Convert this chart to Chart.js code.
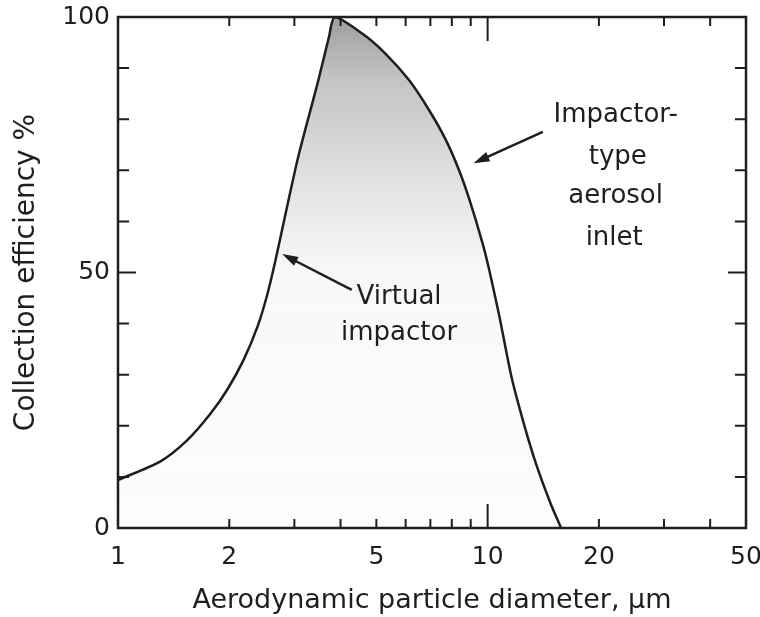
<!DOCTYPE html>
<html>
<head>
<meta charset="utf-8">
<script src="https://cdn.jsdelivr.net/npm/chart.js@4.4.1/dist/chart.umd.min.js"></script>
<style>
  body { margin: 0; background: #fff; }
</style>
</head>
<body>
<canvas id="effChart" width="760" height="617"></canvas>
<script>
// aerodynamic diameter (um) and collection efficiency (%)
const diameters = [1.0, 1.3, 1.54, 1.78, 1.98, 2.19, 2.39, 2.53, 2.66, 2.84, 3.07, 3.48, 3.72, 3.86,
                   4.57, 5.28, 6.12, 6.94, 7.70, 8.37, 8.95, 9.69, 10.1, 10.76, 11.6, 12.6, 13.6, 14.8, 15.8];
const efficiency = [9.4, 13.0, 17.2, 22.4, 27.2, 33.0, 39.6, 45.5, 52.0, 61.5, 72.5, 87.5, 96.0, 100,
                    96.8, 92.9, 87.7, 81.8, 76.0, 70.0, 64.0, 55.7, 50.5, 41.4, 29.6, 19.8, 12, 4.8, 0];

const xTickLabels = [1, 2, 5, 10, 20, 50];
const xMinorTicks = [2, 3, 4, 5, 6, 7, 8, 9, 20, 30, 40];
const yTickLabels = [0, 50, 100];
const yMinorTicks = [10, 20, 30, 40, 50, 60, 70, 80, 90];

// labels: text lines with their anchor in data units, arrows tail -> head
const noteLines = [
    { text: 'Virtual', x: 5.76, y: 45.2 },
    { text: 'impactor', x: 5.76, y: 38.2 },
    { text: 'Impactor-', x: 22.2, y: 80.8 },
    { text: 'type', x: 22.5, y: 72.5 },
    { text: 'aerosol', x: 22.2, y: 65.0 },
    { text: 'inlet', x: 22.0, y: 56.8 }
];
const noteArrows = [
    { from: [4.29, 46.6], to: [2.78, 53.6] },
    { from: [14.1, 77.5], to: [9.16, 71.4] }
];

const ink = '#1e1e1e';
const fontName = "'DejaVu Sans', sans-serif";

const points = diameters.map((d, i) => ({ x: d, y: efficiency[i] }));

const frameAndTicks = {
    id: 'frameAndTicks',
    afterDatasetsDraw(chart) {
        const { ctx, chartArea: a, scales: { x, y } } = chart;
        ctx.save();
        ctx.strokeStyle = ink;
        ctx.lineWidth = 2;
        ctx.beginPath();
        xMinorTicks.concat([10]).forEach(v => {
            const px = x.getPixelForValue(v);
            const len = v === 10 ? 24 : 9;
            ctx.moveTo(px, a.bottom); ctx.lineTo(px, a.bottom - len);
            ctx.moveTo(px, a.top); ctx.lineTo(px, a.top + len);
        });
        yMinorTicks.forEach(v => {
            const py = y.getPixelForValue(v);
            const len = v === 50 ? 18 : 11;
            ctx.moveTo(a.left, py); ctx.lineTo(a.left + len, py);
            ctx.moveTo(a.right, py); ctx.lineTo(a.right - len, py);
        });
        ctx.stroke();
        ctx.lineWidth = 2.5;
        ctx.strokeRect(a.left, a.top, a.right - a.left, a.bottom - a.top);
        ctx.restore();
    }
};

const notes = {
    id: 'notes',
    afterDraw(chart) {
        const { ctx, scales: { x, y } } = chart;
        ctx.save();
        ctx.fillStyle = ink;
        ctx.strokeStyle = ink;
        ctx.font = '26px ' + fontName;
        ctx.textAlign = 'center';
        ctx.textBaseline = 'middle';
        noteLines.forEach(n => ctx.fillText(n.text, x.getPixelForValue(n.x), y.getPixelForValue(n.y)));

        ctx.lineWidth = 2.5;
        noteArrows.forEach(ar => {
            const x0 = x.getPixelForValue(ar.from[0]), y0 = y.getPixelForValue(ar.from[1]);
            const x1 = x.getPixelForValue(ar.to[0]), y1 = y.getPixelForValue(ar.to[1]);
            const ang = Math.atan2(y1 - y0, x1 - x0);
            ctx.beginPath();
            ctx.moveTo(x0, y0);
            ctx.lineTo(x1 - 8 * Math.cos(ang), y1 - 8 * Math.sin(ang));
            ctx.stroke();
            ctx.beginPath();
            ctx.moveTo(x1, y1);
            ctx.lineTo(x1 - 16 * Math.cos(ang) + 5 * Math.sin(ang), y1 - 16 * Math.sin(ang) - 5 * Math.cos(ang));
            ctx.lineTo(x1 - 16 * Math.cos(ang) - 5 * Math.sin(ang), y1 - 16 * Math.sin(ang) + 5 * Math.cos(ang));
            ctx.closePath();
            ctx.fill();
        });
        ctx.restore();
    }
};

let ctx = document.getElementById('effChart').getContext('2d');

let effChart = new Chart(ctx, {
    type: 'scatter',
    data: {
        datasets: [{
            data: points,
            showLine: true,
            borderColor: ink,
            borderWidth: 2.5,
            pointRadius: 0,
            tension: 0.25,
            fill: 'origin',
            backgroundColor: (context) => {
                const area = context.chart.chartArea;
                if (!area) return 'rgba(0,0,0,0.1)';
                const g = context.chart.ctx.createLinearGradient(0, area.top, 0, area.bottom);
                g.addColorStop(0, 'rgba(40,40,40,0.45)');
                g.addColorStop(0.12, 'rgba(40,40,40,0.28)');
                g.addColorStop(0.33, 'rgba(40,40,40,0.13)');
                g.addColorStop(0.5, 'rgba(40,40,40,0.03)');
                g.addColorStop(1, 'rgba(40,40,40,0.01)');
                return g;
            }
        }]
    },
    options: {
        responsive: false,
        animation: false,
        devicePixelRatio: 1,
        layout: {
            autoPadding: false,
            padding: { top: 17, right: 14, left: 0, bottom: 0 }
        },
        plugins: {
            legend: { display: false },
            tooltip: { enabled: false }
        },
        scales: {
            x: {
                type: 'logarithmic',
                min: 1,
                max: 50,
                afterBuildTicks: (scale) => {
                    scale.ticks = xTickLabels.map(v => ({ value: v }));
                },
                afterFit: (scale) => {
                    scale.height = 89;
                    scale.paddingLeft = 0;
                    scale.paddingRight = 0;
                },
                ticks: {
                    color: ink,
                    padding: 14,
                    maxRotation: 0,
                    autoSkip: false,
                    font: { family: fontName, size: 25 },
                    callback: (v) => String(v)
                },
                grid: { display: false, drawTicks: false },
                border: { display: false },
                title: {
                    display: true,
                    text: 'Aerodynamic particle diameter, μm',
                    color: ink,
                    font: { family: fontName, size: 27 },
                    padding: { top: 0, bottom: 0 }
                }
            },
            y: {
                min: 0,
                max: 100,
                afterBuildTicks: (scale) => {
                    scale.ticks = yTickLabels.map(v => ({ value: v }));
                },
                afterFit: (scale) => {
                    scale.width = 118;
                    scale.paddingTop = 0;
                    scale.paddingBottom = 0;
                },
                ticks: {
                    color: ink,
                    padding: 8,
                    font: { family: fontName, size: 25 }
                },
                grid: { display: false, drawTicks: false },
                border: { display: false },
                title: {
                    display: true,
                    text: 'Collection efficiency %',
                    color: ink,
                    font: { family: fontName, size: 28 },
                    padding: { top: 10, bottom: 0 }
                }
            }
        }
    },
    plugins: [frameAndTicks, notes]
});
</script>
</body>
</html>
